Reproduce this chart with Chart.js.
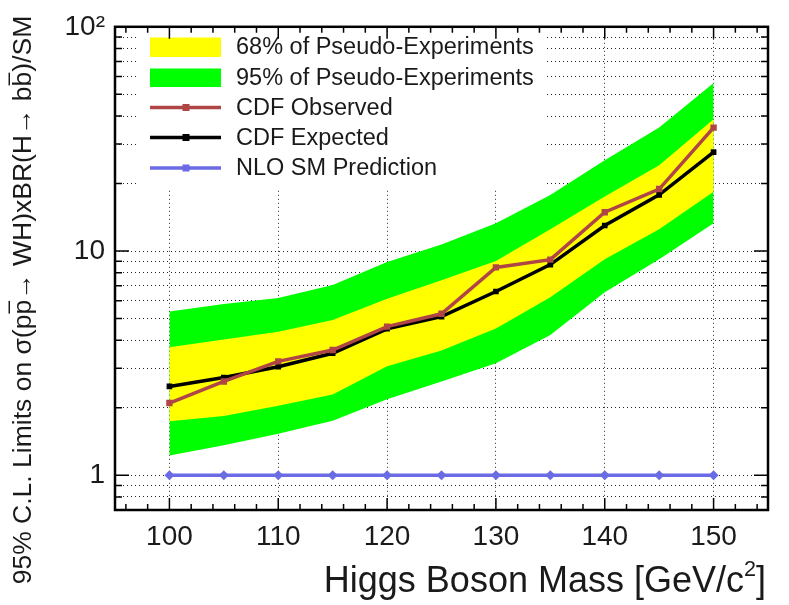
<!DOCTYPE html>
<html>
<head>
<meta charset="utf-8">
<script src="https://cdn.jsdelivr.net/npm/chart.js@4.4.1/dist/chart.umd.min.js"></script>
<style>
  html, body { margin: 0; padding: 0; background: #fff; }
  canvas { display: block; }
</style>
</head>
<body>
<canvas id="limits" width="789" height="605"></canvas>
<script>
const masses = [100, 105, 110, 115, 120, 125, 130, 135, 140, 145, 150];
const observed = [2.1, 2.62, 3.22, 3.62, 4.6, 5.25, 8.45, 9.15, 14.9, 18.9, 35.5];
const expected = [2.49, 2.73, 3.05, 3.5, 4.5, 5.1, 6.6, 8.7, 13.0, 17.8, 27.6];
const smPrediction = [1, 1, 1, 1, 1, 1, 1, 1, 1, 1, 1];
const band68Up = [3.72, 4.03, 4.36, 4.93, 6.12, 7.4, 9.03, 12.5, 17.5, 24.1, 38.7];
const band68Down = [1.74, 1.84, 2.04, 2.29, 3.06, 3.6, 4.51, 6.22, 9.18, 12.5, 18.4];
const band95Up = [5.38, 5.8, 6.18, 7.05, 8.94, 10.7, 13.3, 17.8, 25.4, 35.6, 56.2];
const band95Down = [1.225, 1.36, 1.53, 1.75, 2.18, 2.62, 3.16, 4.22, 6.55, 9.18, 13.3];

const xTickValues = [96, 98, 100, 102, 104, 106, 108, 110, 112, 114, 116, 118, 120, 122, 124, 126,
    128, 130, 132, 134, 136, 138, 140, 142, 144, 146, 148, 150, 152, 154];
const xLabels = {100: '100', 110: '110', 120: '120', 130: '130', 140: '140', 150: '150'};
const yTickValues = [0.7, 0.8, 0.9, 1, 2, 3, 4, 5, 6, 7, 8, 9, 10, 20, 30, 40, 50, 60, 70, 80, 90, 100];
const yLabels = {1: '1', 10: '10', 100: '10\u00b2'};

const legendLabels = ['68% of Pseudo-Experiments', '95% of Pseudo-Experiments',
    'CDF Observed', 'CDF Expected', 'NLO SM Prediction'];

const YELLOW = '#ffff00';
const GREEN = '#00ff00';
const RED = '#b04545';
const BLACK = '#000000';
const BLUE = '#6b6be6';
const FONT = "'Liberation Sans', Arial, Helvetica, sans-serif";

function toPoints(values) {
    return masses.map((m, i) => ({x: m, y: values[i]}));
}

function bandSet(values, color, fill, order) {
    return {
        data: toPoints(values),
        borderColor: 'transparent',
        borderWidth: 0,
        backgroundColor: color,
        pointRadius: 0,
        fill: fill,
        order: order
    };
}

function lineSet(values, color, style, radius, order) {
    return {
        data: toPoints(values),
        borderColor: color,
        backgroundColor: color,
        borderWidth: 3.5,
        pointStyle: style,
        pointRadius: radius,
        pointBackgroundColor: color,
        pointBorderColor: color,
        pointBorderWidth: 0,
        fill: false,
        order: order
    };
}

// measure text pieces (superscripts are smaller)
function measurePieces(ctx, pieces, size) {
    let total = 0;
    for (const p of pieces) {
        ctx.font = (p.sup ? size * 0.6 : size) + 'px ' + FONT;
        p.w = ctx.measureText(p.t).width;
        total += p.w;
    }
    return total;
}

const decorations = {
    id: 'decorations',
    afterDraw(chart) {
        const {ctx, chartArea: a, scales: {x, y}} = chart;
        ctx.save();

        // legend, white box over the grid
        ctx.fillStyle = '#fff';
        ctx.fillRect(136, 34, 408, 156);
        const rows = [47, 77.5, 107.5, 137.5, 168];
        ctx.fillStyle = YELLOW;
        ctx.fillRect(150, 37.5, 71, 19.5);
        ctx.fillStyle = GREEN;
        ctx.fillRect(150, 68.5, 71, 18.5);
        [[RED, 2], [BLACK, 3], [BLUE, 4]].forEach(([c, r]) => {
            ctx.strokeStyle = c;
            ctx.fillStyle = c;
            ctx.lineWidth = 3.5;
            ctx.beginPath();
            ctx.moveTo(150, rows[r]);
            ctx.lineTo(221, rows[r]);
            ctx.stroke();
            ctx.fillRect(182.5, rows[r] - 3.5, 7, 7);
        });
        ctx.fillStyle = '#1a1a1a';
        ctx.font = '23.5px ' + FONT;
        ctx.textBaseline = 'middle';
        ctx.textAlign = 'left';
        legendLabels.forEach((t, i) => ctx.fillText(t, 236, rows[i] + 1));

        // inward ticks on all four sides
        ctx.strokeStyle = '#000';
        ctx.lineWidth = 1.5;
        ctx.beginPath();
        for (const v of xTickValues) {
            const px = x.getPixelForValue(v);
            const len = v % 10 === 0 ? 12 : 6;
            ctx.moveTo(px, a.bottom);
            ctx.lineTo(px, a.bottom - len);
            ctx.moveTo(px, a.top);
            ctx.lineTo(px, a.top + len);
        }
        for (const v of yTickValues) {
            const py = y.getPixelForValue(v);
            const len = yLabels[v] ? 14 : 7;
            ctx.moveTo(a.left, py);
            ctx.lineTo(a.left + len, py);
            ctx.moveTo(a.right, py);
            ctx.lineTo(a.right - len, py);
        }
        ctx.stroke();

        ctx.lineWidth = 2.5;
        ctx.strokeRect(a.left, a.top, a.width, a.height);

        // x title
        ctx.fillStyle = '#1a1a1a';
        ctx.textBaseline = 'alphabetic';
        const xs = 36;
        const xPieces = [{t: 'Higgs Boson Mass [GeV/c'}, {t: '2', sup: true}, {t: ']'}];
        let cx = 766 - measurePieces(ctx, xPieces, xs);
        for (const p of xPieces) {
            ctx.font = (p.sup ? xs * 0.6 : xs) + 'px ' + FONT;
            ctx.fillText(p.t, cx, p.sup ? 576 : 592);
            cx += p.w;
        }

        // y title, rotated, with overlined antiparticles
        const ys = 26.5;
        const yPieces = [{t: '95% C.L. Limits on \u03c3(p'}, {t: 'p', bar: true},
            {t: '\u2192 WH)xBR(H\u2192 b'}, {t: 'b', bar: true}, {t: ')/SM'}];
        const total = measurePieces(ctx, yPieces, ys);
        ctx.translate(31, 300);
        ctx.rotate(-Math.PI / 2);
        let cy = -total / 2;
        ctx.font = ys + 'px ' + FONT;
        ctx.lineWidth = 1.5;
        ctx.strokeStyle = '#1a1a1a';
        for (const p of yPieces) {
            ctx.fillText(p.t, cy, 0);
            if (p.bar) {
                ctx.beginPath();
                ctx.moveTo(cy + 1, -ys * 0.82);
                ctx.lineTo(cy + p.w - 1, -ys * 0.82);
                ctx.stroke();
            }
            cy += p.w;
        }
        ctx.restore();
    }
};

const cfg = {
    type: 'line',
    data: {
        datasets: [
            lineSet(observed, RED, 'rect', 4.5, 0),
            lineSet(expected, BLACK, 'rect', 4, 1),
            lineSet(smPrediction, BLUE, 'rectRot', 5, 2),
            bandSet(band68Up, YELLOW, '+1', 3),
            bandSet(band68Down, YELLOW, false, 3),
            bandSet(band95Up, GREEN, '+1', 4),
            bandSet(band95Down, GREEN, false, 4)
        ]
    },
    options: {
        responsive: false,
        animation: false,
        layout: {padding: {top: 20, right: 21, left: 0, bottom: 0}},
        plugins: {
            legend: {display: false},
            tooltip: {enabled: false}
        },
        scales: {
            x: {
                type: 'linear',
                min: 95,
                max: 155,
                afterFit: (scale) => { scale.height = 95; },
                afterBuildTicks: (scale) => {
                    scale.ticks = xTickValues.map(v => ({value: v}));
                },
                grid: {
                    drawTicks: false,
                    color: (c) => (c.tick && c.tick.value % 10 === 0) ? 'rgba(0,0,0,0.85)' : 'transparent',
                    lineWidth: 1
                },
                border: {display: false, dash: [1, 3]},
                ticks: {
                    autoSkip: false,
                    maxRotation: 0,
                    padding: 10,
                    color: '#1a1a1a',
                    font: {family: FONT, size: 28},
                    callback: (v) => xLabels[v] || ''
                }
            },
            y: {
                type: 'logarithmic',
                min: 0.7,
                max: 100,
                afterFit: (scale) => { scale.width = 115; },
                afterBuildTicks: (scale) => {
                    scale.ticks = yTickValues.map(v => ({value: v}));
                },
                grid: {
                    drawTicks: false,
                    color: 'rgba(0,0,0,0.85)',
                    lineWidth: 1
                },
                border: {display: false, dash: [1, 3]},
                ticks: {
                    autoSkip: false,
                    padding: 10,
                    color: '#1a1a1a',
                    font: {family: FONT, size: 28},
                    callback: (v) => yLabels[v] || ''
                }
            }
        }
    },
    plugins: [decorations]
};

new Chart(document.getElementById('limits'), cfg);
</script>
</body>
</html>
